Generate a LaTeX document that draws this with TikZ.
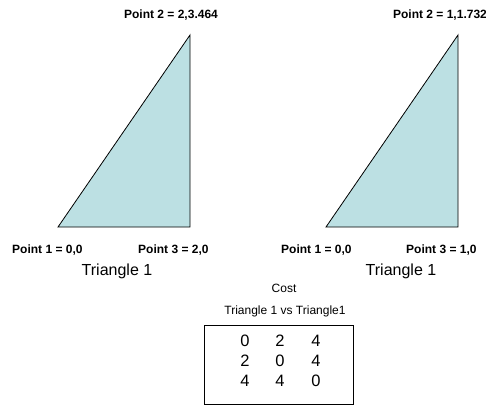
\documentclass[tikz,border=0pt]{standalone}
\usepackage{fontspec}
\setmainfont{Liberation Sans}
\definecolor{trifill}{RGB}{188,224,227}
\begin{document}
\begin{tikzpicture}[x=1pt,y=-1pt,
  tri/.style={draw=black,fill=trifill,line width=0.8pt,line join=miter},
  ptlabel/.style={font=\fontsize{12}{14}\selectfont\bfseries,inner sep=0pt},
  title/.style={font=\fontsize{16}{18}\selectfont,inner sep=0pt},
  small/.style={font=\fontsize{12}{14}\selectfont,inner sep=0pt},
  num/.style={font=\fontsize{16.5}{18}\selectfont,inner sep=0pt}]
\useasboundingbox (0,0) rectangle (486,405);
% left triangle
\coordinate (a1) at (58,227);
\coordinate (a2) at (190,35);
\coordinate (a3) at (190,227);
\draw[tri] (a1) -- (a3) -- (a2) -- cycle;
\node[ptlabel] (la2) at (171,15) {Point 2 = 2,3.464};
\node[ptlabel,anchor=west] (la1) at (12,250) {Point 1 = 0,0};
\node[ptlabel,anchor=west] (la3) at (138,250) {Point 3 = 2,0};
\node[title] (ta) at (117,271) {Triangle 1};
% right triangle
\coordinate (b1) at (326,227);
\coordinate (b2) at (458,35);
\coordinate (b3) at (458,227);
\draw[tri] (b1) -- (b3) -- (b2) -- cycle;
\node[ptlabel] (lb2) at (440,15) {Point 2 = 1,1.732};
\node[ptlabel,anchor=west] (lb1) at (281,250) {Point 1 = 0,0};
\node[ptlabel,anchor=west] (lb3) at (406,250) {Point 3 = 1,0};
\node[title] (tb) at (401,271) {Triangle 1};
% cost
\node[small] (cost) at (284,288) {Cost};
\node[small] (vs) at (285,311) {Triangle 1 vs Triangle1};
\draw[line width=0.8pt] (204,325) rectangle (353,404);
\foreach \r/\a/\b/\c in {341/0/2/4,361/2/0/4,381/4/4/0}{
  \node[num] at (245,\r) {\a};
  \node[num] at (280,\r) {\b};
  \node[num] at (316,\r) {\c};
}
\end{tikzpicture}
\end{document}
